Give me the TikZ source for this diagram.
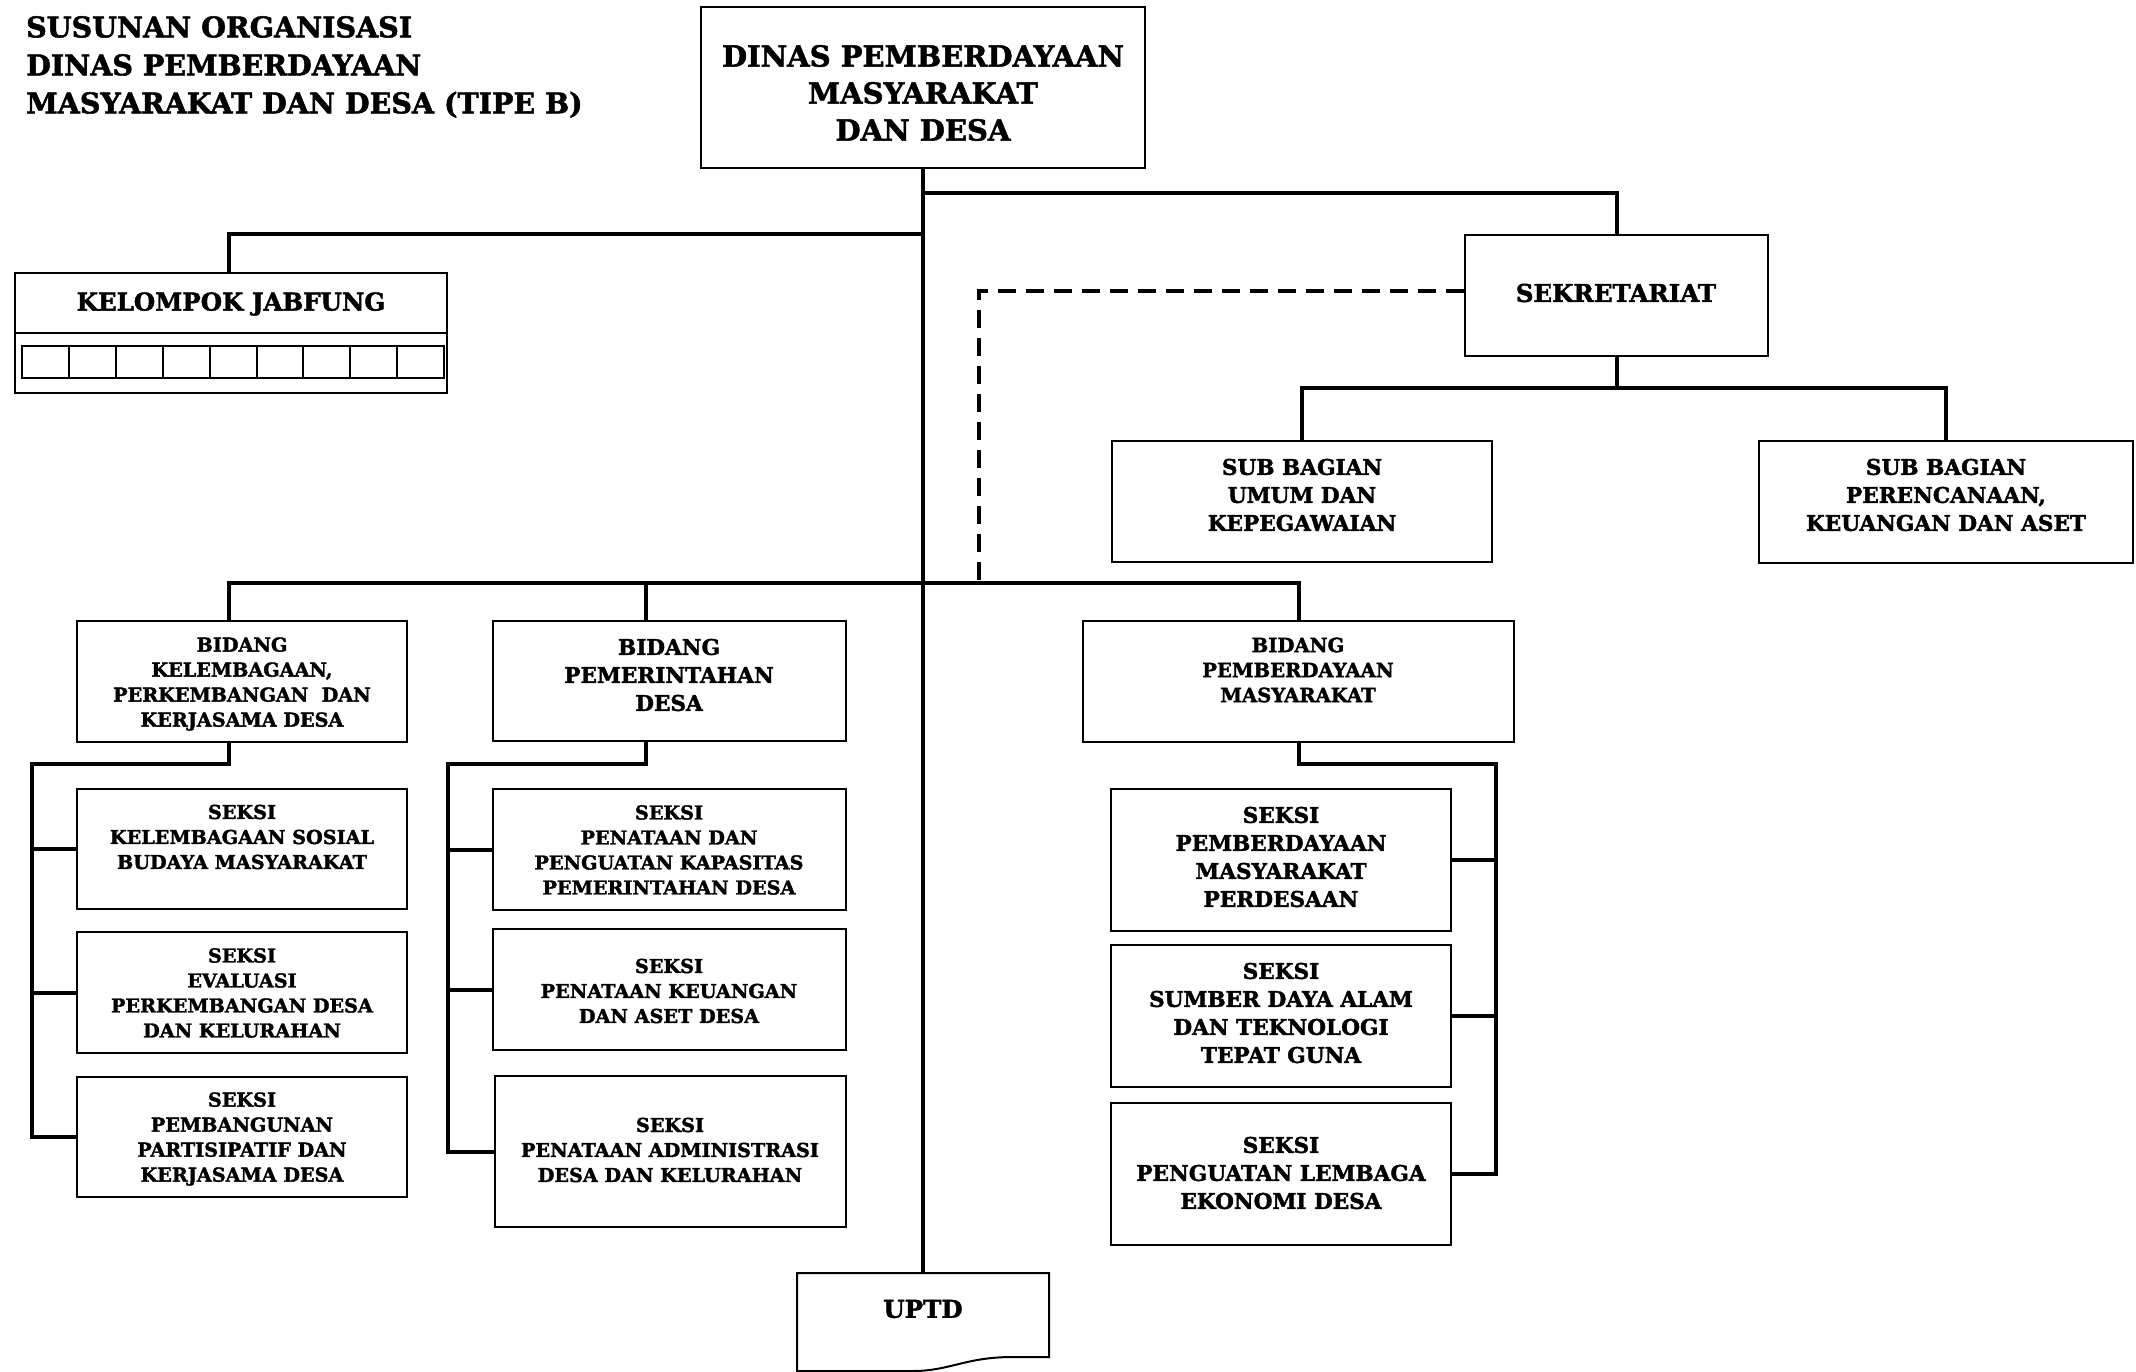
\documentclass[tikz,border=0pt]{standalone}
\usepackage{fontspec}
\setmainfont{DejaVu Serif}[BoldFeatures={FakeBold=1.8}]
\usetikzlibrary{fit}

\begin{document}
\begin{tikzpicture}[x=1pt,y=-1pt,
  frame/.style={draw, line width=2pt, inner sep=0pt},
  link/.style={line width=4pt},
  dashlink/.style={line width=3.5pt, dash pattern=on 18pt off 10pt},
  headtxt/.style={font=\fontsize{29}{37}\selectfont\bfseries, align=center, inner sep=0pt},
  bigtxt/.style={font=\fontsize{24.5}{37}\selectfont\bfseries, align=center, inner sep=0pt},
  midtxt/.style={font=\fontsize{21.6}{28}\selectfont\bfseries, align=center, inner sep=0pt},
  smalltxt/.style={font=\fontsize{19.2}{25}\selectfont\bfseries, align=center, inner sep=0pt},
  titletxt/.style={font=\fontsize{28.5}{38}\selectfont\bfseries, align=left, inner sep=0pt}]

\useasboundingbox (0,0) rectangle (2136,1372);

% heading
\node[titletxt, anchor=north west] (title) at (26,16)
  {SUSUNAN ORGANISASI\\DINAS PEMBERDAYAAN\\MASYARAKAT DAN DESA (TIPE B)};

% head of office
\node[frame, fit={(701,7) (1145,168)}] (top) {};
\node[headtxt] (top-t) at (923,93) {DINAS PEMBERDAYAAN\\MASYARAKAT\\DAN DESA};

% functional group
\node[frame, fit={(15,273) (447,393)}] (jab) {};
\node[bigtxt] (jab-t) at (231,304) {KELOMPOK JABFUNG};
\draw[line width=2pt] (jab.west |- 0,333) -- (jab.east |- 0,333);
\foreach \i in {0,...,8} {
  \draw[line width=2pt] ({21.7+\i*46.96},346) rectangle ({21.7+(\i+1)*46.96},378);
}

% secretariat
\node[frame, fit={(1465,235) (1768,356)}] (sek) {};
\node[bigtxt] (sek-t) at (1616,293) {SEKRETARIAT};

\node[frame, fit={(1112,441) (1492,562)}] (sbu) {};
\node[midtxt] (sbu-t) at (1302,495) {SUB BAGIAN\\UMUM DAN\\KEPEGAWAIAN};
\node[frame, fit={(1759,441) (2133,563)}] (sbp) {};
\node[midtxt] (sbp-t) at (1946,495) {SUB BAGIAN\\PERENCANAAN,\\KEUANGAN DAN ASET};

% fields
\node[frame, fit={(77,621) (407,742)}] (b1) {};
\node[smalltxt] (b1-t) at (242,684) {BIDANG\\KELEMBAGAAN,\\PERKEMBANGAN\ \ DAN\\KERJASAMA DESA};
\node[frame, fit={(493,621) (846,741)}] (b2) {};
\node[midtxt] (b2-t) at (669,675) {BIDANG\\PEMERINTAHAN\\DESA};
\node[frame, fit={(1083,621) (1514,742)}] (b3) {};
\node[smalltxt, font=\fontsize{19.6}{25}\selectfont\bfseries] (b3-t) at (1298,670) {BIDANG\\PEMBERDAYAAN\\MASYARAKAT};

% sections, first field
\node[frame, fit={(77,789) (407,909)}] (s11) {};
\node[smalltxt] (s11-t) at (242,837) {SEKSI\\KELEMBAGAAN SOSIAL\\BUDAYA MASYARAKAT};
\node[frame, fit={(77,932) (407,1053)}] (s12) {};
\node[smalltxt] (s12-t) at (242,993) {SEKSI\\EVALUASI\\PERKEMBANGAN DESA\\DAN KELURAHAN};
\node[frame, fit={(77,1077) (407,1197)}] (s13) {};
\node[smalltxt] (s13-t) at (242,1139) {SEKSI\\PEMBANGUNAN\\PARTISIPATIF DAN\\KERJASAMA DESA};

% sections, second field
\node[frame, fit={(493,789) (846,910)}] (s21) {};
\node[smalltxt] (s21-t) at (669,850) {SEKSI\\PENATAAN DAN\\PENGUATAN KAPASITAS\\PEMERINTAHAN DESA};
\node[frame, fit={(493,929) (846,1050)}] (s22) {};
\node[smalltxt] (s22-t) at (669,991) {SEKSI\\PENATAAN KEUANGAN\\DAN ASET DESA};
\node[frame, fit={(495,1076) (846,1227)}] (s23) {};
\node[smalltxt] (s23-t) at (670,1150) {SEKSI\\PENATAAN ADMINISTRASI\\DESA DAN KELURAHAN};

% sections, third field
\node[frame, fit={(1111,789) (1451,931)}] (s31) {};
\node[midtxt] (s31-t) at (1281,857) {SEKSI\\PEMBERDAYAAN\\MASYARAKAT\\PERDESAAN};
\node[frame, fit={(1111,945) (1451,1087)}] (s32) {};
\node[midtxt] (s32-t) at (1281,1013) {SEKSI\\SUMBER DAYA ALAM\\DAN TEKNOLOGI\\TEPAT GUNA};
\node[frame, fit={(1111,1103) (1451,1245)}] (s33) {};
\node[midtxt] (s33-t) at (1281,1173) {SEKSI\\PENGUATAN LEMBAGA\\EKONOMI DESA};

% technical unit (document shape, cut by the page edge)
\draw[line width=2pt] (797,1371) -- (797,1273) -- (1049,1273) -- (1049,1357) -- (1013,1357)
  .. controls (965,1357) and (950,1371) .. (913,1371) -- cycle;
\coordinate (uptd) at (923,1273);
\node[bigtxt] (uptd-t) at (923,1309) {UPTD};

% connector bends
\coordinate (bx1) at (229,583);
\coordinate (bx2) at (646,583);
\coordinate (c1) at (32,764);
\coordinate (c2) at (448,764);
\coordinate (c3) at (1496,764);
\coordinate (dx) at (979,583);

% trunk
\draw[link] (top.south) -- (uptd);
\draw[link] (jab.north -| bx1) |- (top.south |- 0,234);
\draw[link] (top.south |- 0,193) -| (sek.north);
\draw[link] (sek.south) -- (sek.south |- 0,388);
\draw[link] (sbu.north) |- (sek.south |- 0,388) -| (sbp.north);

% fields bar
\draw[link] (b1.north -| bx1) |- (b3.north |- bx1) -- (b3.north);
\draw[link] (bx2) -- (b2.north -| bx2);

% coordination line
\draw[dashlink] (sek.west |- 0,291) -| (dx);

% first field
\draw[link] (b1.south -| bx1) |- (c1) |- (s13.west);
\draw[link] (c1 |- s11.west) -- (s11.west);
\draw[link] (c1 |- s12.west) -- (s12.west);

% second field
\draw[link] (b2.south -| bx2) |- (c2) |- (s23.west);
\draw[link] (c2 |- s21.west) -- (s21.west);
\draw[link] (c2 |- s22.west) -- (s22.west);

% third field
\draw[link] (b3.south) |- (c3) |- (s33.east);
\draw[link] (c3 |- s31.east) -- (s31.east);
\draw[link] (c3 |- s32.east) -- (s32.east);

\end{tikzpicture}
\end{document}
